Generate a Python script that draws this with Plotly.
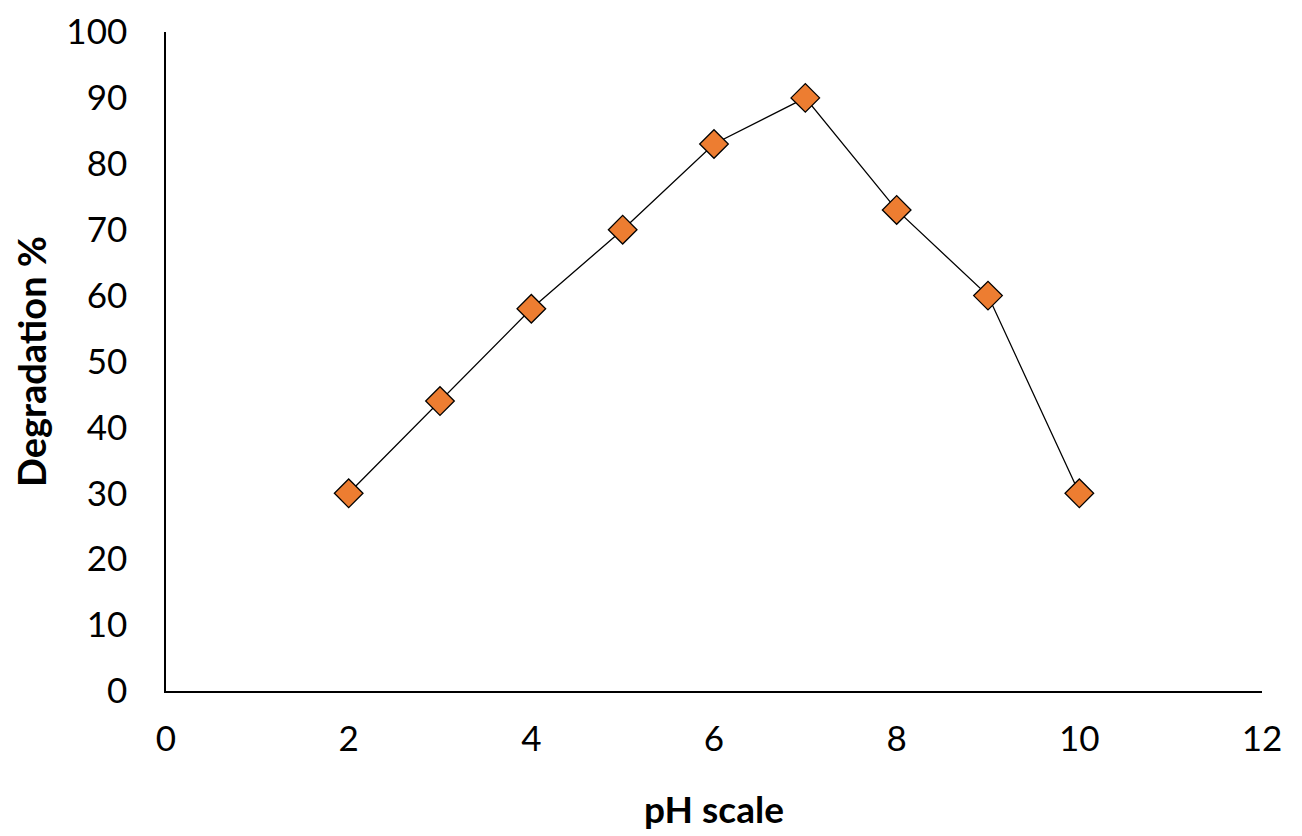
import plotly.graph_objects as go

ph = [2, 3, 4, 5, 6, 7, 8, 9, 10]
degradation = [30, 44, 58, 70, 83, 90, 73, 60, 30]
x_ticks = [0, 2, 4, 6, 8, 10, 12]
y_ticks = [0, 10, 20, 30, 40, 50, 60, 70, 80, 90, 100]

fig = go.Figure()
fig.add_trace(go.Scatter(
    x=ph, y=degradation, mode="lines+markers",
    line=dict(color="black", width=1.3),
    marker=dict(symbol="diamond", size=22, color="#ED7D31",
                line=dict(color="black", width=1.3)),
    showlegend=False,
))

font = "Lato, 'Open Sans', sans-serif"
fig.update_layout(
    width=1294, height=828,
    margin=dict(l=158, r=40, t=24, b=145),
    paper_bgcolor="white", plot_bgcolor="white",
    font=dict(family=font, color="black"),
    xaxis=dict(
        range=[0, 12], tickvals=x_ticks, showgrid=False, zeroline=False,
        showline=True, linecolor="black", linewidth=1.5,
        ticks="", ticklabelstandoff=16,
        tickfont=dict(size=35, family=font),
        title=dict(text="<b>pH scale</b>", font=dict(size=37, family=font), standoff=40),
        automargin=False,
    ),
    yaxis=dict(
        range=[0, 100], tickvals=y_ticks, showgrid=False, zeroline=False,
        showline=True, linecolor="black", linewidth=1.5,
        ticks="", ticklabelstandoff=30,
        tickfont=dict(size=35, family=font),
        title=dict(text="<b>Degradation %</b>", font=dict(size=38, family=font), standoff=30),
        automargin=False,
    ),
)

fig.write_html("out.html")
